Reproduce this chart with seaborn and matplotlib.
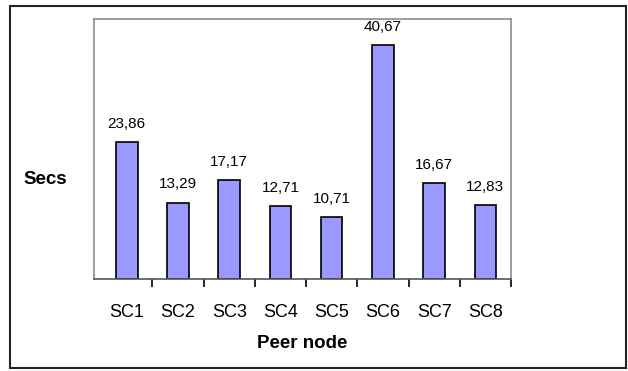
import matplotlib.pyplot as plt
import seaborn as sns
import pandas as pd
from matplotlib.patches import Rectangle

# data
nodes = ['SC1', 'SC2', 'SC3', 'SC4', 'SC5', 'SC6', 'SC7', 'SC8']
secs = [23.86, 13.29, 17.17, 12.71, 10.71, 40.67, 16.67, 12.83]

df = pd.DataFrame({'node': nodes, 'secs': secs})

sns.set_style('white')
plt.rcParams['font.family'] = ['Liberation Sans', 'DejaVu Sans']
plt.rcParams['text.color'] = 'black'
plt.rcParams['axes.labelcolor'] = 'black'
plt.rcParams['xtick.color'] = 'black'

fig = plt.figure(figsize=(6.28, 3.71), dpi=100)
ax = fig.add_axes([94 / 628, 1 - 279 / 371, (511 - 94) / 628, (279 - 19) / 371])

sns.barplot(data=df, x='node', y='secs', color='#9999FF', saturation=1,
            width=0.42, edgecolor='black', linewidth=1.2, ax=ax)

labels = [f'{v:.2f}'.replace('.', ',') for v in secs]
ax.bar_label(ax.containers[0], labels=labels, padding=8, fontsize=11)

ax.set_xlim(-0.64, 7.5)
ax.set_ylim(0, 45.2)
ax.set_yticks([])
ax.set_xlabel('Peer node', fontsize=13.5, fontweight='bold', labelpad=10)
ax.set_ylabel('')

# ticks sit between categories
ax.tick_params(axis='x', which='major', length=0, labelsize=13, pad=18)
ax.set_xticks([i + 0.5 for i in range(len(nodes))], minor=True)
ax.tick_params(axis='x', which='minor', length=6, width=1.2, color='black', direction='out', bottom=True)

for side in ['top', 'left', 'right']:
    ax.spines[side].set_color('#8c8c8c')
    ax.spines[side].set_linewidth(1.2)
ax.spines['bottom'].set_color('#555555')
ax.spines['bottom'].set_linewidth(1.2)

fig.text(45 / 628, 1 - 180 / 371, 'Secs', fontsize=13.5, fontweight='bold',
         ha='center', va='center')

# outer frame of the chart
fig.patches.append(Rectangle((10 / 628, 3 / 371), 616 / 628, 362 / 371,
                             transform=fig.transFigure, fill=False,
                             edgecolor='#222222', linewidth=1.5))

fig.savefig('out.png', dpi=100)
